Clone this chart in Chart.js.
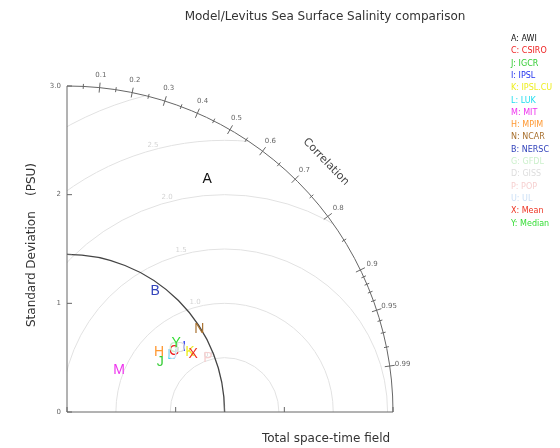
<!DOCTYPE html>
<html>
<head>
<meta charset="utf-8">
<script src="https://cdn.jsdelivr.net/npm/chart.js@4/dist/chart.umd.min.js"></script>
<style>
  html, body { margin: 0; padding: 0; background: #fff; }
  canvas { display: block; }
</style>
</head>
<body>
<canvas id="taylor" width="560" height="448"></canvas>
<script>
// Taylor diagram data
const models = ['A: AWI', 'C: CSIRO', 'J: IGCR', 'I: IPSL', 'K: IPSL.CU', 'L: LUK', 'M: MIT', 'H: MPIM',
  'N: NCAR', 'B: NERSC', 'G: GFDL', 'D: GISS', 'P: POP', 'U: UL', 'X: Mean', 'Y: Median'];
const colors = ['#111111', '#ee2222', '#33cc33', '#2233ee', '#eeee22', '#22ddee', '#ee33ee', '#ff9933',
  '#a8702e', '#3344bb', '#ccf0cc', '#dddddd', '#f6d0d0', '#cce0f6', '#ee3322', '#33dd33'];
const stdDev = [2.50, 1.135, 0.973, 1.233, 1.26, 1.093, 0.616, 1.012, 1.437, 1.378, 1.15, 1.20, 1.39, 1.10, 1.278, 1.189];
const correlation = [0.516, 0.869, 0.881, 0.874, 0.898, 0.877, 0.778, 0.838, 0.847, 0.588, 0.86, 0.87, 0.933, 0.88, 0.908, 0.845];
const refStd = 1.45;
const maxStd = 3.0;
const stdTicks = [0, 1, 2, 3];
const stdTickLabels = ['0', '1', '2', '3.0'];
const rmsRings = [0.5, 1.0, 1.5, 2.0, 2.5, 3.0];
const corrMajor = [0.1, 0.2, 0.3, 0.4, 0.5, 0.6, 0.7, 0.8, 0.9, 0.95, 0.99];
const corrMinor = [0.05, 0.15, 0.25, 0.35, 0.45, 0.55, 0.65, 0.75, 0.85, 0.91, 0.92, 0.93, 0.94, 0.96, 0.97, 0.98];

const FONT = '"DejaVu Sans", sans-serif';

const points = stdDev.map((s, i) => ({
  x: s * correlation[i],
  y: s * Math.sqrt(1 - correlation[i] * correlation[i]),
}));

const taylorPlugin = {
  id: 'taylor',
  beforeDatasetsDraw(c) {
    const { ctx, scales: { x, y } } = c;
    const x0 = x.getPixelForValue(0);
    const y0 = y.getPixelForValue(0);
    const R = x.getPixelForValue(maxStd) - x0;
    const k = R / maxStd;
    const cx = x.getPixelForValue(refStd);

    // grey RMS rings, clipped to the quadrant
    ctx.save();
    ctx.beginPath();
    ctx.moveTo(x0, y0);
    ctx.arc(x0, y0, R, -Math.PI / 2, 0);
    ctx.closePath();
    ctx.clip();
    ctx.strokeStyle = '#e2e2e2';
    ctx.lineWidth = 1;
    rmsRings.forEach(r => {
      ctx.beginPath();
      ctx.arc(cx, y0, r * k, Math.PI, 2 * Math.PI);
      ctx.stroke();
    });
    ctx.fillStyle = '#d4d4d4';
    ctx.font = '7px ' + FONT;
    ctx.textAlign = 'center';
    ctx.textBaseline = 'middle';
    rmsRings.forEach(r => {
      const phi = 105 * Math.PI / 180;
      ctx.fillText(r.toFixed(1), cx + (r * k + 5) * Math.cos(phi), y0 - (r * k + 5) * Math.sin(phi));
    });
    ctx.restore();

    // axes
    ctx.save();
    ctx.strokeStyle = '#666';
    ctx.lineWidth = 1;
    ctx.beginPath();
    ctx.moveTo(x0, y0 - R);
    ctx.lineTo(x0, y0);
    ctx.lineTo(x0 + R, y0);
    ctx.stroke();
    // outer correlation arc
    ctx.beginPath();
    ctx.arc(x0, y0, R, -Math.PI / 2, 0);
    ctx.stroke();
    // reference std arc
    ctx.strokeStyle = '#444';
    ctx.lineWidth = 1.3;
    ctx.beginPath();
    ctx.arc(x0, y0, refStd * k, -Math.PI / 2, 0);
    ctx.stroke();
    ctx.lineWidth = 1;
    ctx.strokeStyle = '#666';

    // std ticks on both axes
    ctx.fillStyle = '#666';
    ctx.font = '7px ' + FONT;
    ctx.textAlign = 'right';
    ctx.textBaseline = 'middle';
    stdTicks.forEach((t, i) => {
      const py = y.getPixelForValue(t);
      const px = x.getPixelForValue(t);
      ctx.beginPath();
      ctx.moveTo(x0, py);
      ctx.lineTo(x0 + 5, py);
      ctx.moveTo(px, y0);
      ctx.lineTo(px, y0 - 5);
      ctx.stroke();
      ctx.fillText(stdTickLabels[i], x0 - 6, py);
    });
    const pr = y.getPixelForValue(refStd);
    ctx.beginPath();
    ctx.moveTo(x0, pr);
    ctx.lineTo(x0 + 5, pr);
    ctx.moveTo(cx, y0);
    ctx.lineTo(cx, y0 - 7);
    ctx.stroke();

    // correlation ticks
    const tick = (cval, len) => {
      const th = Math.acos(cval);
      ctx.beginPath();
      ctx.moveTo(x0 + (R - len) * Math.cos(th), y0 - (R - len) * Math.sin(th));
      ctx.lineTo(x0 + (R + len) * Math.cos(th), y0 - (R + len) * Math.sin(th));
      ctx.stroke();
    };
    corrMinor.forEach(cv => tick(cv, 2.5));
    corrMajor.forEach(cv => tick(cv, 5));
    ctx.textAlign = 'center';
    corrMajor.forEach(cv => {
      const th = Math.acos(cv);
      const rr = R + 13;
      ctx.fillText(String(cv), x0 + rr * Math.cos(th), y0 - rr * Math.sin(th));
    });

    // "Correlation" label along the arc
    ctx.save();
    const tc = 44 * Math.PI / 180;
    ctx.translate(x0 + (R + 34) * Math.cos(tc), y0 - (R + 34) * Math.sin(tc));
    ctx.rotate(Math.PI / 2 - tc);
    ctx.font = '11px ' + FONT;
    ctx.fillStyle = '#444';
    ctx.fillText('Correlation', 0, 0);
    ctx.restore();
    ctx.restore();
  },
  afterDatasetsDraw(c) {
    const { ctx } = c;
    const meta = c.getDatasetMeta(0);
    ctx.save();
    ctx.font = '14px "Liberation Sans", Arial, sans-serif';
    ctx.textAlign = 'center';
    ctx.textBaseline = 'middle';
    meta.data.forEach((el, i) => {
      ctx.fillStyle = colors[i];
      ctx.fillText(models[i].charAt(0), el.x, el.y);
    });

    // titles
    ctx.fillStyle = '#333';
    ctx.font = '12px ' + FONT;
    ctx.fillText('Model/Levitus Sea Surface Salinity comparison', 325, 17);
    ctx.fillText('Total space-time field', 326, 439);
    ctx.save();
    ctx.translate(32, 245);
    ctx.rotate(-Math.PI / 2);
    ctx.fillText('Standard Deviation    (PSU)', 0, 0);
    ctx.restore();

    // legend
    ctx.font = '8px ' + FONT;
    ctx.textAlign = 'left';
    models.forEach((m, i) => {
      ctx.fillStyle = colors[i];
      ctx.fillText(m, 511, 39 + i * 12.3);
    });
    ctx.restore();
  },
};

new Chart(document.getElementById('taylor'), {
  type: 'scatter',
  data: {
    datasets: [{
      label: 'models',
      data: points,
      pointRadius: 0,
      pointHoverRadius: 0,
    }],
  },
  options: {
    responsive: false,
    animation: false,
    layout: {
      padding: { left: 67, right: 167, top: 86, bottom: 36 },
    },
    scales: {
      x: { type: 'linear', min: 0, max: maxStd, display: false },
      y: { type: 'linear', min: 0, max: maxStd, display: false },
    },
    plugins: {
      legend: { display: false },
      tooltip: { enabled: false },
    },
  },
  plugins: [taylorPlugin],
});
</script>
</body>
</html>
